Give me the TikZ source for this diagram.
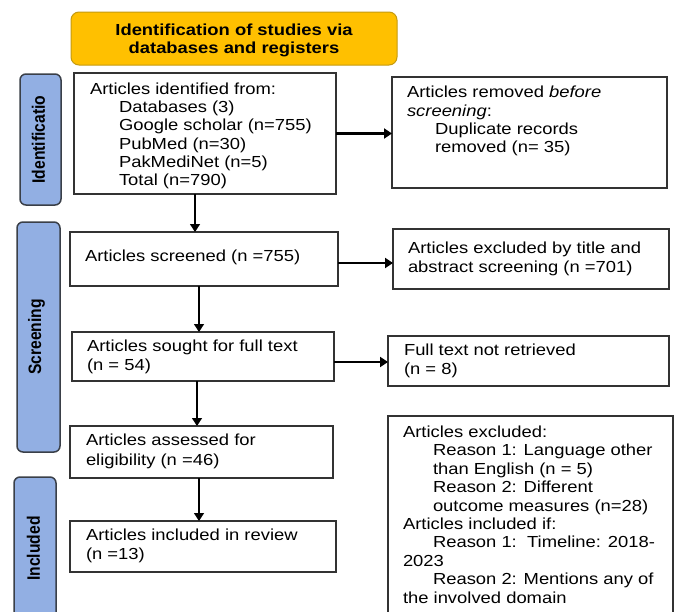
\documentclass[tikz,border=0pt]{standalone}
\usepackage{fontspec}
\setmainfont{Liberation Sans}[FakeStretch=1.15]
\newfontfamily\sidefont{Liberation Sans}[FakeStretch=0.87]
\usetikzlibrary{arrows.meta}
\definecolor{hdrfill}{HTML}{FFC000}
\definecolor{hdrline}{HTML}{C49A10}
\definecolor{sidefill}{HTML}{92AFE3}
\definecolor{sideline}{HTML}{3A3F48}
\definecolor{boxline}{HTML}{333333}
\begin{document}
\begin{tikzpicture}[x=1pt,y=-1pt,
  every node/.style={inner sep=0pt,outer sep=0pt},
  box/.style={draw=boxline,line width=1.3pt,fill=white,anchor=north west},
  sidebar/.style={draw=sideline,line width=1.5pt,fill=sidefill,rounded corners=6pt,anchor=north west},
  sidetxt/.style={rotate=90,font=\sidefont\bfseries\fontsize{18}{18}\selectfont},
  txt/.style={anchor=base west,align=left,font=\fontsize{16}{18.3}\selectfont},
  arr/.style={-{Triangle[length=8pt,width=10pt]},line width=1.2pt,black},
  harr/.style={-{Triangle[length=8pt,width=10pt]},line width=2.2pt,black}]
\useasboundingbox (0,0) rectangle (676,611);
\clip (0,0) rectangle (676,611);
\fill[white] (0,0) rectangle (676,611);
% header
\node[draw=hdrline,line width=1pt,fill=hdrfill,rounded corners=8pt,anchor=north west,
  minimum width=326pt,minimum height=53pt] (hdr) at (71,12) {};
\node[align=center,anchor=base,font=\bfseries\fontsize{16}{18.3}\selectfont] (hdrt) at (234,53.3)
  {Identification of studies via\\databases and registers};
% side bars
\node[sidebar,minimum width=41pt,minimum height=131pt] (sid) at (20,74) {};
\node[sidetxt] (sidt) at ([xshift=-2pt]sid.center) {Identificatio};
\node[sidebar,minimum width=43pt,minimum height=230pt] (sscr) at (17,222) {};
\node[sidetxt] (sscrt) at ([xshift=-2pt]sscr.center) {Screening};
\node[sidebar,minimum width=42pt,minimum height=143pt] (sinc) at (14,477) {};
\node[sidetxt] (sinct) at ([xshift=-1.5pt]sinc.center) {Included};
% boxes (text nodes anchored at the baseline of their last line)
\node[box,minimum width=262pt,minimum height=121pt] (b1) at (74,73) {};
\node[txt] (b1t) at (90,185.8) {Articles identified from:\\
  \hspace*{29pt}Databases (3)\\
  \hspace*{29pt}Google scholar (n=755)\\
  \hspace*{29pt}PubMed (n=30)\\
  \hspace*{29pt}PakMediNet (n=5)\\
  \hspace*{29pt}Total (n=790)};
\node[box,minimum width=275pt,minimum height=111pt] (b2) at (392,77) {};
\node[txt] (b2t) at (407,152.6) {Articles removed \textit{before}\\
  \textit{screening}:\\
  \hspace*{28pt}Duplicate records\\
  \hspace*{28pt}removed (n= 35)};
\node[box,minimum width=268pt,minimum height=54pt] (scr) at (70,232) {};
\node[txt] (scrt) at (85,261.5) {Articles screened (n =755)};
\node[box,minimum width=276pt,minimum height=60pt] (exc) at (393,229) {};
\node[txt,font=\fontsize{16}{19.7}\selectfont] (exct) at (408,272.7) {Articles excluded by title and\\abstract screening (n =701)};
\node[box,minimum width=262pt,minimum height=49pt] (sou) at (72,332) {};
\node[txt,font=\fontsize{16}{19}\selectfont] (sout) at (87,370) {Articles sought for full text\\(n = 54)};
\node[box,minimum width=281pt,minimum height=50pt] (ret) at (388,336) {};
\node[txt,font=\fontsize{16}{19}\selectfont] (rett) at (404,374) {Full text not retrieved\\(n = 8)};
\node[box,minimum width=263pt,minimum height=52pt] (ass) at (70,426) {};
\node[txt,font=\fontsize{16}{19.7}\selectfont] (asst) at (86,465) {Articles assessed for\\eligibility (n =46)};
\node[box,minimum width=266pt,minimum height=51pt] (inc) at (70,521) {};
\node[txt,font=\fontsize{16}{19}\selectfont] (inct) at (86,559) {Articles included in review\\(n =13)};
\node[box,minimum width=285pt,minimum height=210pt] (rea) at (388,416) {};
\node[txt,font=\fontsize{16}{18.4}\selectfont] (reat) at (403,603) {Articles excluded:\\
  \hspace*{30pt}Reason 1: Language other\\
  \hspace*{30pt}than English (n = 5)\\
  \hspace*{30pt}Reason 2: Different\\
  \hspace*{30pt}outcome measures (n=28)\\
  Articles included if:\\
  \hspace*{30pt}Reason 1:\ \ Timeline: 2018-\\
  2023\\
  \hspace*{30pt}Reason 2: Mentions any of\\
  the involved domain};
% arrows
\draw[harr] (b1.east) -- (b1.east -| b2.west);
\draw[harr] ([yshift=-4pt]scr.east) -- ([yshift=-4pt]scr.east -| exc.west);
\draw[harr] ([yshift=-5.5pt]sou.east) -- ([yshift=-5.5pt]sou.east -| ret.west);
\draw[arr] ([xshift=-10pt]b1.south) -- ([xshift=-10pt]b1.south |- scr.north);
\draw[arr] ([xshift=-5pt]scr.south) -- ([xshift=-5pt]scr.south |- sou.north);
\draw[arr] ([xshift=-6pt]sou.south) -- ([xshift=-6pt]sou.south |- ass.north);
\draw[arr] ([xshift=-2.5pt]ass.south) -- ([xshift=-2.5pt]ass.south |- inc.north);
\end{tikzpicture}
\end{document}
